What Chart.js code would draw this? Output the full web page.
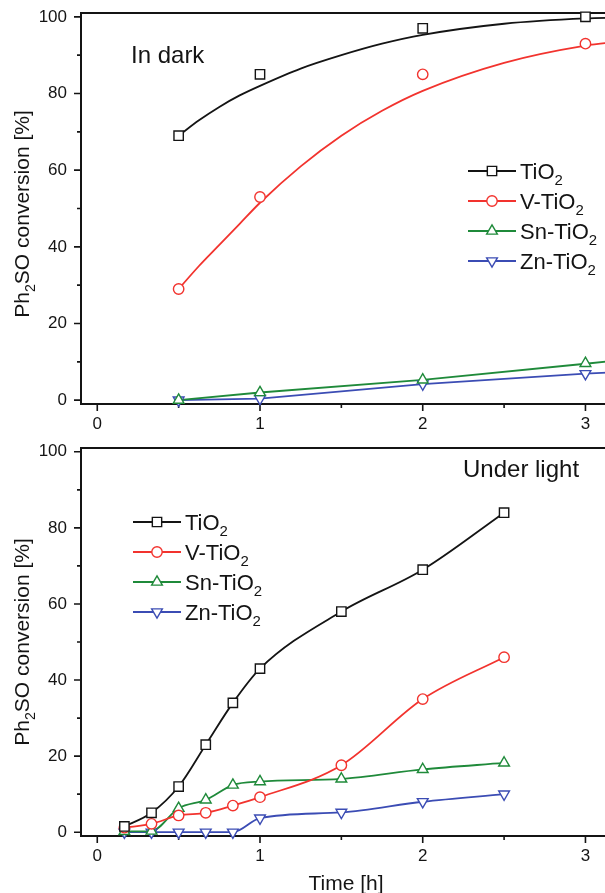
<!DOCTYPE html>
<html>
<head>
<meta charset="utf-8">
<script src="https://cdn.jsdelivr.net/npm/chart.js@4.4.1/dist/chart.umd.min.js"></script>
<style>
  html, body { margin: 0; padding: 0; background: #fff; }
  #wrap { position: relative; width: 605px; height: 893px; overflow: hidden; }
  canvas { position: absolute; left: 0; }
  #dark { top: 0; }
  #light { top: 440px; }
</style>
</head>
<body>
<div id="wrap">
  <canvas id="dark" width="626" height="440"></canvas>
  <canvas id="light" width="626" height="453"></canvas>
</div>
<script>
// --- series / estilos ---
const seriesNames = ['TiO2', 'V-TiO2', 'Sn-TiO2', 'Zn-TiO2'];
const seriesColors = ['#141414', '#f2332e', '#1f8a3a', '#3b4cb4'];
const markerStyles = ['rect', 'circle', 'triangle', 'triangle'];
const markerRotations = [0, 0, 0, 180];
const markerRadius = [6.6, 5.2, 6.2, 6.2];

const xTickValues = [0, 1, 2, 3];
const xMinorValues = [0.5, 1.5, 2.5];
const yTickValues = [0, 20, 40, 60, 80, 100];
const yMinorValues = [10, 30, 50, 70, 90];

// --- In dark: measured points ---
const darkTimes = [0.5, 1, 2, 3];
const darkTiO2 = [69, 85, 97, 100];
const darkVTiO2 = [29, 53, 85, 93];
const darkSnTiO2 = [0, 2, 5.3, 9.6];
const darkZnTiO2 = [0, 0.4, 4.2, 6.9];

// --- In dark: fitted curves ---
const darkFitTimes = [0.5, 0.625, 0.75, 0.875, 1, 1.25, 1.5, 1.75, 2, 2.5, 3, 3.2];
const darkFitTiO2 = [69, 73, 76.5, 79.5, 82, 86.5, 90, 93, 95.3, 98.2, 99.6, 99.8];
const darkFitVTiO2 = [29, 35, 40.5, 46, 51.5, 61, 69, 75.5, 80.7, 88, 92.5, 93.5];
// Sn / Zn lines run on past 3 h (cut by the picture edge)
const darkLineTimes = [0.5, 1, 2, 3, 3.2];
const darkLineSn = [0, 2, 5.3, 9.5, 10.4];
const darkLineZn = [0, 0.4, 4.2, 6.9, 7.3];

// --- Under light ---
const lightTimes = [1 / 6, 1 / 3, 0.5, 2 / 3, 5 / 6, 1, 1.5, 2, 2.5];
const lightTiO2 = [1.5, 5.1, 12, 23, 34, 43, 58, 69, 84];
const lightVTiO2 = [1.2, 2.2, 4.4, 5.1, 7, 9.2, 17.6, 35, 46];
const lightSnTiO2 = [0.2, 0.3, 6.3, 8.5, 12.4, 13.3, 14, 16.5, 18.2];
const lightZnTiO2 = [0, 0, 0, 0, 0, 3.7, 5.2, 8, 10];

const FONT = "'Liberation Sans', Arial, Helvetica, sans-serif";

function pts(xs, ys) {
    return xs.map((x, i) => ({ x: x, y: ys[i] }));
}

function markerSet(i, xs, ys) {
    return {
        label: seriesNames[i],
        data: pts(xs, ys),
        showLine: false,
        pointStyle: markerStyles[i],
        rotation: markerRotations[i],
        pointRadius: markerRadius[i],
        pointBorderWidth: 1.4,
        pointBorderColor: seriesColors[i],
        pointBackgroundColor: '#ffffff',
        clip: false,
        order: 0
    };
}

function lineSet(i, xs, ys, smooth) {
    return {
        label: seriesNames[i] + ' line',
        data: pts(xs, ys),
        showLine: true,
        pointRadius: 0,
        borderColor: seriesColors[i],
        borderWidth: 1.8,
        tension: smooth ? 0.4 : 0,
        cubicInterpolationMode: smooth ? 'monotone' : 'default',
        order: 1
    };
}

// texto con subindice: [['TiO', false], ['2', true]]
function subParts(s) {
    return [[s.slice(0, -1), false], [s.slice(-1), true]];
}

function partsWidth(ctx, parts, size) {
    let w = 0;
    parts.forEach(([t, sub]) => {
        ctx.font = (sub ? size * 0.68 : size) + 'px ' + FONT;
        w += ctx.measureText(t).width;
    });
    return w;
}

function drawParts(ctx, parts, x, y, size) {
    let cx = x;
    parts.forEach(([t, sub]) => {
        ctx.font = (sub ? size * 0.68 : size) + 'px ' + FONT;
        ctx.fillText(t, cx, sub ? y + size * 0.28 : y);
        cx += ctx.measureText(t).width;
    });
}

const yTitleParts = [['Ph', false], ['2', true], ['SO conversion [%]', false]];

function noPad(s) {
    s.paddingTop = 0; s.paddingBottom = 0;
    s.paddingLeft = 0; s.paddingRight = 0;
}

function makeDecor(cfg) {
    return {
        id: 'decor_' + cfg.name,
        beforeDatasetsDraw(chart) {
            const { ctx, chartArea: a, scales: { x, y } } = chart;
            ctx.save();
            ctx.strokeStyle = '#141414';
            ctx.lineWidth = 1.6;
            ctx.beginPath();
            xTickValues.forEach(v => {
                const p = x.getPixelForValue(v);
                ctx.moveTo(p, a.bottom); ctx.lineTo(p, a.bottom + 7);
            });
            xMinorValues.forEach(v => {
                const p = x.getPixelForValue(v);
                ctx.moveTo(p, a.bottom); ctx.lineTo(p, a.bottom + 4);
            });
            yTickValues.forEach(v => {
                const p = y.getPixelForValue(v);
                ctx.moveTo(a.left, p); ctx.lineTo(a.left - 7, p);
            });
            yMinorValues.forEach(v => {
                const p = y.getPixelForValue(v);
                ctx.moveTo(a.left, p); ctx.lineTo(a.left - 4, p);
            });
            ctx.stroke();
            ctx.lineWidth = 2;
            ctx.strokeRect(a.left, a.top, a.right - a.left, a.bottom - a.top);
            ctx.restore();
        },
        afterDraw(chart) {
            const { ctx } = chart;
            ctx.save();
            ctx.fillStyle = '#141414';
            ctx.textBaseline = 'alphabetic';
            ctx.textAlign = 'left';

            // titulo eje Y
            ctx.save();
            ctx.translate(29, cfg.yTitleY);
            ctx.rotate(-Math.PI / 2);
            const tw = partsWidth(ctx, yTitleParts, 21);
            drawParts(ctx, yTitleParts, -tw / 2, 0, 21);
            ctx.restore();

            // rotulo del panel
            ctx.font = '24px ' + FONT;
            ctx.fillText(cfg.label, cfg.labelX, cfg.labelY);

            // titulo eje X
            if (cfg.xTitle) {
                ctx.font = '21px ' + FONT;
                ctx.textAlign = 'center';
                ctx.fillText(cfg.xTitle, 346, cfg.xTitleY);
                ctx.textAlign = 'left';
            }

            // leyenda
            seriesNames.forEach((name, i) => {
                const ly = cfg.legY + i * cfg.legStep;
                ctx.strokeStyle = seriesColors[i];
                ctx.lineWidth = 1.8;
                ctx.beginPath();
                ctx.moveTo(cfg.legX, ly);
                ctx.lineTo(cfg.legX + 48, ly);
                ctx.stroke();
                ctx.fillStyle = '#ffffff';
                ctx.lineWidth = 1.4;
                Chart.helpers.drawPoint(ctx, {
                    pointStyle: markerStyles[i],
                    rotation: markerRotations[i],
                    radius: markerRadius[i],
                    borderWidth: 1.4
                }, cfg.legX + 24, ly);
                ctx.fillStyle = '#141414';
                drawParts(ctx, subParts(name), cfg.legX + 52, ly + 8, 22);
            });
            ctx.restore();
        }
    };
}

function makeChart(id, datasets, cfg) {
    return new Chart(document.getElementById(id), {
        type: 'scatter',
        data: { datasets: datasets },
        options: {
            responsive: false,
            animation: false,
            devicePixelRatio: 1,
            layout: { padding: { top: cfg.padTop, left: 0, right: 0, bottom: 0 } },
            plugins: { legend: { display: false }, tooltip: { enabled: false } },
            scales: {
                x: {
                    type: 'linear', min: -0.1, max: 3.2,
                    afterBuildTicks: s => { s.ticks = xTickValues.map(v => ({ value: v })); },
                    afterFit: s => { s.height = cfg.xAxisH; noPad(s); },
                    grid: { display: false, drawTicks: false },
                    border: { display: false },
                    ticks: {
                        padding: 10, color: '#141414', maxRotation: 0, autoSkip: false,
                        font: { family: FONT, size: 17 },
                        callback: v => String(v)
                    }
                },
                y: {
                    type: 'linear', min: -1, max: 101,
                    afterBuildTicks: s => { s.ticks = yTickValues.map(v => ({ value: v })); },
                    afterFit: s => { s.width = 81; noPad(s); },
                    grid: { display: false, drawTicks: false },
                    border: { display: false },
                    ticks: {
                        padding: 14, color: '#141414', autoSkip: false,
                        font: { family: FONT, size: 17 },
                        callback: v => String(v)
                    }
                }
            }
        },
        plugins: [makeDecor(cfg)]
    });
}

// --- panel superior: In dark ---
makeChart('dark', [
    lineSet(0, darkFitTimes, darkFitTiO2, true),
    lineSet(1, darkFitTimes, darkFitVTiO2, true),
    lineSet(2, darkLineTimes, darkLineSn, false),
    lineSet(3, darkLineTimes, darkLineZn, false),
    markerSet(0, darkTimes, darkTiO2),
    markerSet(1, darkTimes, darkVTiO2),
    markerSet(2, darkTimes, darkSnTiO2),
    markerSet(3, darkTimes, darkZnTiO2)
], {
    name: 'dark', padTop: 13, xAxisH: 36,
    yTitleY: 214, label: 'In dark', labelX: 131, labelY: 63,
    legX: 468, legY: 171, legStep: 30
});

// --- panel inferior: Under light ---
makeChart('light', [
    lineSet(0, lightTimes, lightTiO2, true),
    lineSet(1, lightTimes, lightVTiO2, true),
    lineSet(2, lightTimes, lightSnTiO2, true),
    lineSet(3, lightTimes, lightZnTiO2, true),
    markerSet(0, lightTimes, lightTiO2),
    markerSet(1, lightTimes, lightVTiO2),
    markerSet(2, lightTimes, lightSnTiO2),
    markerSet(3, lightTimes, lightZnTiO2)
], {
    name: 'light', padTop: 5, xAxisH: 57,
    yTitleY: 202, label: 'Under light', labelX: 463, labelY: 37,
    xTitle: 'Time [h]', xTitleY: 450,
    legX: 133, legY: 82, legStep: 30
});
</script>
</body>
</html>
